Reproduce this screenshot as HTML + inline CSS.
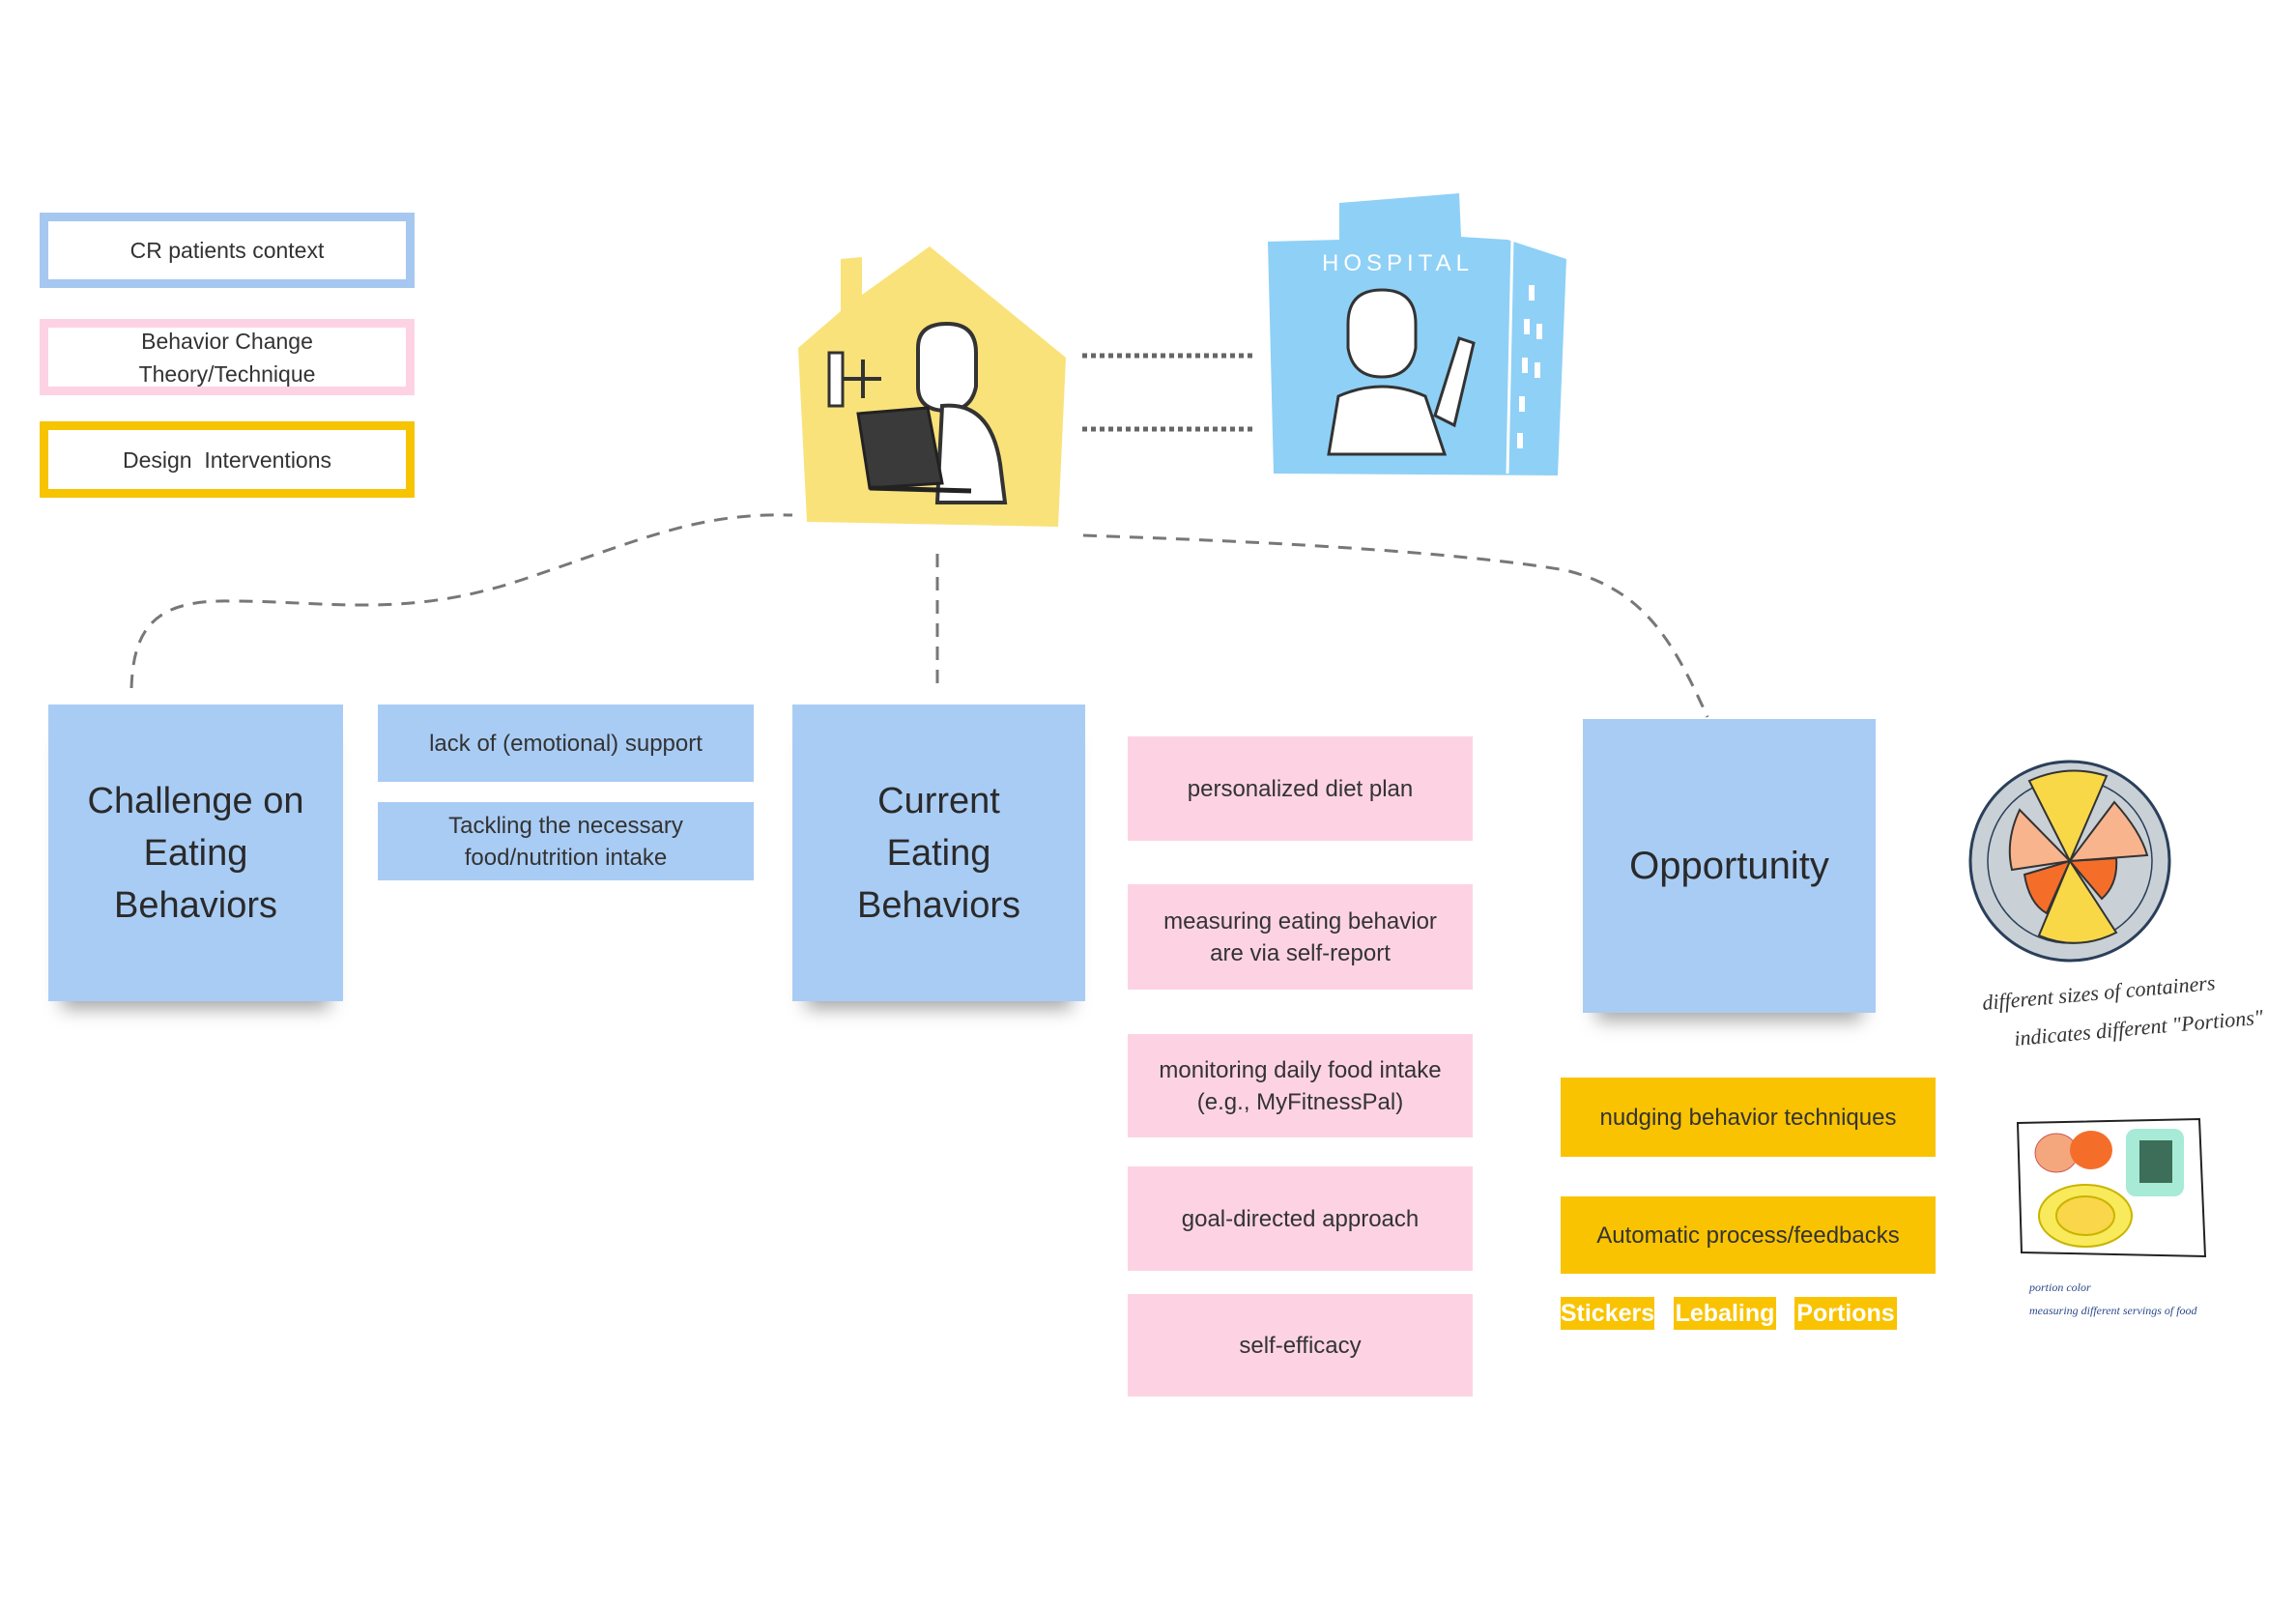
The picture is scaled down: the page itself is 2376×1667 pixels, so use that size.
<!DOCTYPE html>
<html><head><meta charset="utf-8"><style>
body{margin:0;width:2376px;height:1667px;background:#fff;position:relative;overflow:hidden;font-family:"Liberation Sans",sans-serif;color:#333}
.b{position:absolute;display:flex;align-items:center;justify-content:center;text-align:center;box-sizing:border-box}
.leg{background:#fff;font-size:23px;line-height:34px}
.note{background:#a9ccf4;font-size:38px;line-height:54px;color:#2a2a2a;box-shadow:0 22px 18px -14px rgba(0,0,0,.35)}
.bl{background:#a9ccf4;font-size:24px;line-height:33px}
.pk{background:#fdd3e3;font-size:24px;line-height:33px}
.yl{background:#f9c301;font-size:24px;line-height:33px}
.tag{background:#f9c301;color:#fff;font-weight:bold;font-size:25px}
</style></head><body>
<div class="b leg" style="left:41px;top:220px;width:388px;height:78px;border:9px solid #a6c8f0">CR patients context</div>
<div class="b leg" style="left:41px;top:330px;width:388px;height:79px;border:9px solid #fdd3e3">Behavior Change<br>Theory/Technique</div>
<div class="b leg" style="left:41px;top:436px;width:388px;height:79px;border:9px solid #f6c400">Design&nbsp; Interventions</div>

<svg style="position:absolute;left:0;top:0" width="2376" height="1667">
<path d="M826 360 L870 322 L870 268 L892 266 L892 305 L962 255 L1103 370 L1095 545 L835 540 Z" fill="#fae27a"/>
<rect x="858" y="365" width="14" height="55" fill="#fff" stroke="#333" stroke-width="3"/>
<path d="M872 392 H912 M893 372 V412" stroke="#333" stroke-width="4"/>
<path d="M950 360 q0-25 30-25 q30 0 30 30 v35 q-5 25-30 25 q-30 0-30-25 z" fill="#fff" stroke="#333" stroke-width="4"/>
<path d="M975 420 q50-5 60 60 l5 40 h-70 z" fill="#fff" stroke="#333" stroke-width="4"/>
<path d="M888 428 L960 422 L975 500 L900 505 Z" fill="#3a3a3a" stroke="#222" stroke-width="3"/>
<path d="M900 505 L1005 508" stroke="#222" stroke-width="5"/>
<path d="M1386 210 L1510 200 L1512 245 L1560 248 L1621 268 L1612 492 L1318 490 L1312 250 L1386 248 Z" fill="#8fd0f6"/>
<text x="1368" y="280" font-family="Liberation Sans" font-size="24" fill="#fff" letter-spacing="5">HOSPITAL</text>
<path d="M1565 248 L1560 490" stroke="#fff" stroke-width="3"/>
<g fill="#fff"><rect x="1582" y="295" width="6" height="16"/><rect x="1577" y="330" width="6" height="16"/><rect x="1590" y="335" width="6" height="16"/><rect x="1575" y="370" width="6" height="16"/><rect x="1588" y="375" width="6" height="16"/><rect x="1572" y="410" width="6" height="16"/><rect x="1570" y="448" width="6" height="16"/></g>
<path d="M1395 335 q0-35 35-35 q35 0 35 35 v25 q-5 30-35 30 q-30 0-35-30 z" fill="#fff" stroke="#333" stroke-width="3"/>
<path d="M1375 470 L1385 410 q45-20 90 0 l20 60 z" fill="#fff" stroke="#333" stroke-width="3"/>
<path d="M1485 430 L1510 350 L1525 355 L1505 440 Z" fill="#fff" stroke="#333" stroke-width="3"/>
<g stroke="#666" stroke-width="5" stroke-dasharray="5 4">
<path d="M1120 368 H1300"/><path d="M1120 444 H1300"/></g>
<g stroke="#777" stroke-width="3" stroke-dasharray="14 10" fill="none">
<path d="M136 712 C138 650 160 620 240 622 C340 622 420 640 540 600 C660 560 720 530 820 533"/>
<path d="M970 573 V712"/>
<path d="M1121 554 C1300 560 1500 570 1620 590 C1700 610 1730 660 1767 742"/>
</g>
<circle cx="2142" cy="891" r="103" fill="#c9d0d6" stroke="#2a3f5a" stroke-width="3"/>
<circle cx="2142" cy="891" r="85" fill="none" stroke="#2a3f5a" stroke-width="1.5"/>
<path d="M2142 891 L2100 808 Q2140 790 2180 803 Z" fill="#f9d848" stroke="#333" stroke-width="2"/>
<path d="M2142 891 L2110 968 Q2150 985 2190 965 Z" fill="#f9d848" stroke="#333" stroke-width="2"/>
<path d="M2142 891 L2090 838 Q2075 870 2082 900 Z" fill="#f8b48d" stroke="#333" stroke-width="2"/>
<path d="M2142 891 L2188 830 Q2215 860 2222 885 Z" fill="#f8b48d" stroke="#333" stroke-width="2"/>
<path d="M2142 891 L2095 905 Q2100 935 2118 945 Z" fill="#f46e2a" stroke="#333" stroke-width="2"/>
<path d="M2142 891 L2190 888 Q2192 915 2175 930 Z" fill="#f46e2a" stroke="#333" stroke-width="2"/>
<text x="2052" y="1045" font-family="Liberation Serif" font-style="italic" font-size="22" fill="#333" transform="rotate(-5 2052 1045)">different sizes of containers</text>
<text x="2085" y="1082" font-family="Liberation Serif" font-style="italic" font-size="22" fill="#333" transform="rotate(-5 2085 1082)">indicates different "Portions"</text>
<path d="M2088 1162 L2276 1158 L2282 1300 L2092 1296 Z" fill="#fff" stroke="#222" stroke-width="2"/>
<ellipse cx="2128" cy="1193" rx="22" ry="20" fill="#f4a77d" stroke="#c55" stroke-width="1"/>
<ellipse cx="2164" cy="1190" rx="22" ry="20" fill="#f46e2a"/>
<rect x="2200" y="1168" width="60" height="70" rx="10" fill="#a7ead5"/>
<rect x="2214" y="1180" width="34" height="44" fill="#3c6e5a"/>
<ellipse cx="2158" cy="1258" rx="48" ry="32" fill="#f8ea5a" stroke="#c9b400" stroke-width="2"/>
<ellipse cx="2158" cy="1258" rx="30" ry="20" fill="#fad64a" stroke="#c9b400" stroke-width="2"/>
<text x="2100" y="1336" font-size="12" fill="#2a4a8a" font-family="Liberation Serif" font-style="italic">portion color</text>
<text x="2100" y="1360" font-size="12" fill="#2a4a8a" font-family="Liberation Serif" font-style="italic">measuring different servings of food</text>
</svg>

<div class="b note" style="left:50px;top:729px;width:305px;height:307px">Challenge on<br>Eating<br>Behaviors</div>
<div class="b bl" style="left:391px;top:729px;width:389px;height:80px">lack of (emotional) support</div>
<div class="b bl" style="left:391px;top:830px;width:389px;height:81px">Tackling the necessary<br>food/nutrition intake</div>
<div class="b note" style="left:820px;top:729px;width:303px;height:307px">Current<br>Eating<br>Behaviors</div>
<div class="b pk" style="left:1167px;top:762px;width:357px;height:108px">personalized diet plan</div>
<div class="b pk" style="left:1167px;top:915px;width:357px;height:109px">measuring eating behavior<br>are via self-report</div>
<div class="b pk" style="left:1167px;top:1070px;width:357px;height:107px">monitoring daily food intake<br>(e.g., MyFitnessPal)</div>
<div class="b pk" style="left:1167px;top:1207px;width:357px;height:108px">goal-directed approach</div>
<div class="b pk" style="left:1167px;top:1339px;width:357px;height:106px">self-efficacy</div>
<div class="b note" style="left:1638px;top:744px;width:303px;height:304px;font-size:40px">Opportunity</div>
<div class="b yl" style="left:1615px;top:1115px;width:388px;height:82px">nudging behavior techniques</div>
<div class="b yl" style="left:1615px;top:1238px;width:388px;height:80px">Automatic process/feedbacks</div>
<div class="b tag" style="left:1615px;top:1342px;width:97px;height:34px">Stickers</div>
<div class="b tag" style="left:1732px;top:1342px;width:106px;height:34px">Lebaling</div>
<div class="b tag" style="left:1857px;top:1342px;width:106px;height:34px">Portions</div>
</body></html>
